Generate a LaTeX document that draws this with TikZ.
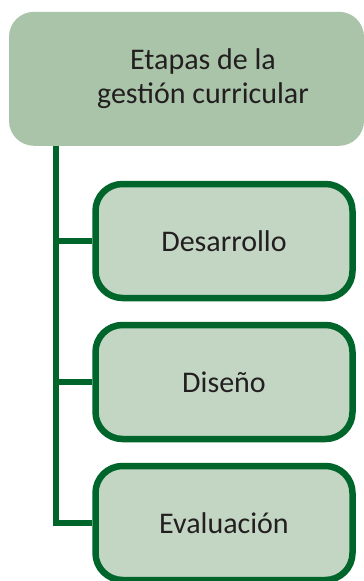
\documentclass[tikz,border=0pt]{standalone}
\usepackage{fontspec}
\setmainfont{Carlito}
\usetikzlibrary{positioning}
\definecolor{trunkgreen}{HTML}{00652A}
\definecolor{headfill}{HTML}{A9C4A8}
\definecolor{boxfill}{HTML}{C2D6C3}
\definecolor{textgray}{HTML}{231F20}

\begin{document}
\begin{tikzpicture}[x=1pt, y=-1pt, node distance=141pt, on grid,
    head/.style={fill=headfill, rounded corners=25pt, minimum width=355pt,
      minimum height=134pt},
    headtext/.style={align=center, text=textgray,
      font=\fontsize{30}{34}\selectfont},
    stage/.style={draw=trunkgreen, line width=6.5pt, fill=boxfill,
      rounded corners=27pt, minimum width=257pt, minimum height=114pt,
      text=textgray, font=\fontsize{30}{34}\selectfont},
    branch/.style={draw=trunkgreen, line width=6pt}]
    \useasboundingbox (0,0) rectangle (364,581);
    % Define the nodes
    \node[head] (head) at (186.5,78.8) {};
    \node[headtext] (title) at ([xshift=16.5pt]head.center) {Etapas de la\\gestión curricular};
    \node[stage] (desarrollo) at (224,241) {Desarrollo};
    \node[stage] (diseno) [below=of desarrollo] {Diseño};
    \node[stage] (evaluacion) [below=of diseno] {Evaluación};

    % Define the connectors
    \coordinate (trunk) at ([xshift=47pt]head.south west);
    \draw[branch] (trunk) |- (evaluacion.west);
    \draw[branch] (trunk |- desarrollo.west) -- (desarrollo.west);
    \draw[branch] (trunk |- diseno.west) -- (diseno.west);
\end{tikzpicture}
\end{document}
